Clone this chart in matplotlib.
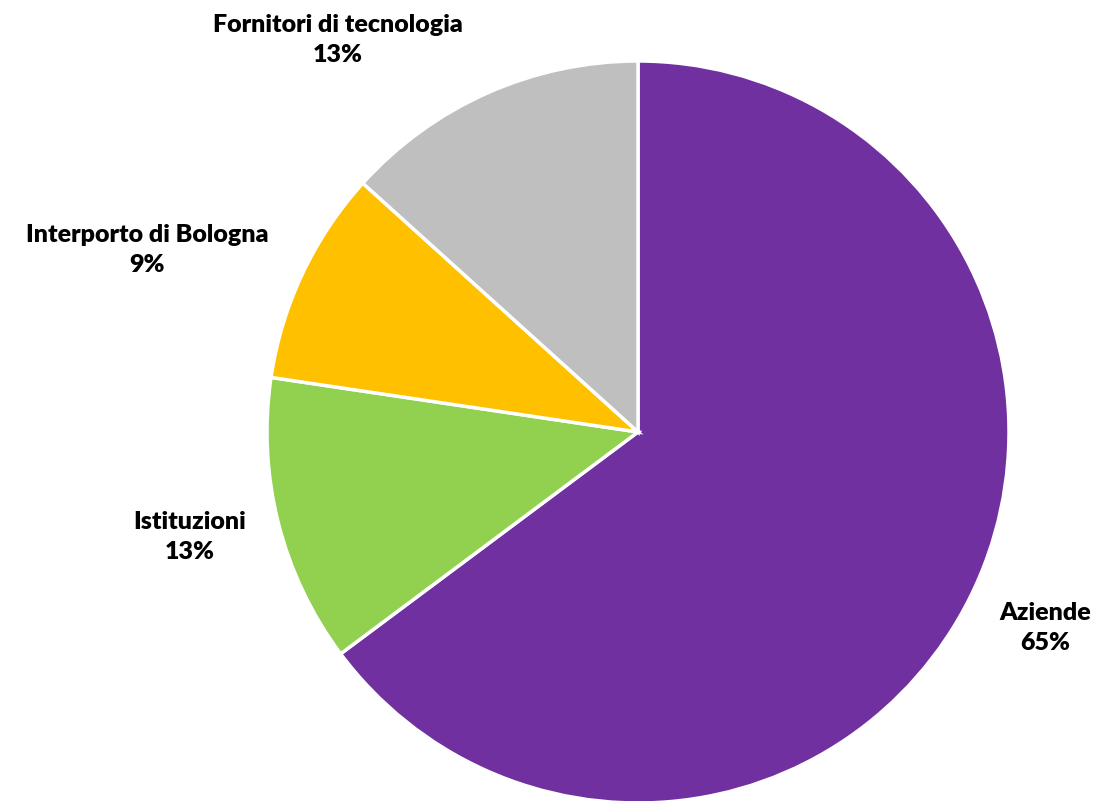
import matplotlib
matplotlib.use("Agg")
import matplotlib.pyplot as plt

categories = ["Aziende", "Istituzioni", "Interporto di Bologna", "Fornitori di tecnologia"]
values = [64.8, 12.55, 9.35, 13.3]
colors = ["#7030A0", "#92D050", "#FFC000", "#BFBFBF"]
# label positions in units of the pie radius
label_pos = [(1.097, -0.528), (-1.208, -0.283), (-1.323, 0.491), (-0.809, 1.057)]

plt.rcParams['font.family'] = ['Lato', 'DejaVu Sans']

fig = plt.figure(figsize=(10.99, 8.01), dpi=100)
cx, cy, r = 638, 432, 371
W, H = 1099, 801
ax = fig.add_axes([(cx - r) / W, (H - cy - r) / H, 2 * r / W, 2 * r / H])
wedges, _ = ax.pie(values, colors=colors, startangle=90, counterclock=False,
                   radius=1, wedgeprops=dict(edgecolor="white", linewidth=2.5))
for w in wedges:
    w.set_clip_on(False)
ax.set_xlim(-1, 1)
ax.set_ylim(-1, 1)
ax.set_aspect("equal")
ax.axis("off")

total = sum(values)
for cat, v, (x, y) in zip(categories, values, label_pos):
    ax.text(x, y, f"{cat}\n{v / total * 100:.0f}%", ha="center", va="center",
            fontsize=18, fontweight="heavy", color="black", linespacing=1.45)

fig.savefig("out.png", dpi=100)
